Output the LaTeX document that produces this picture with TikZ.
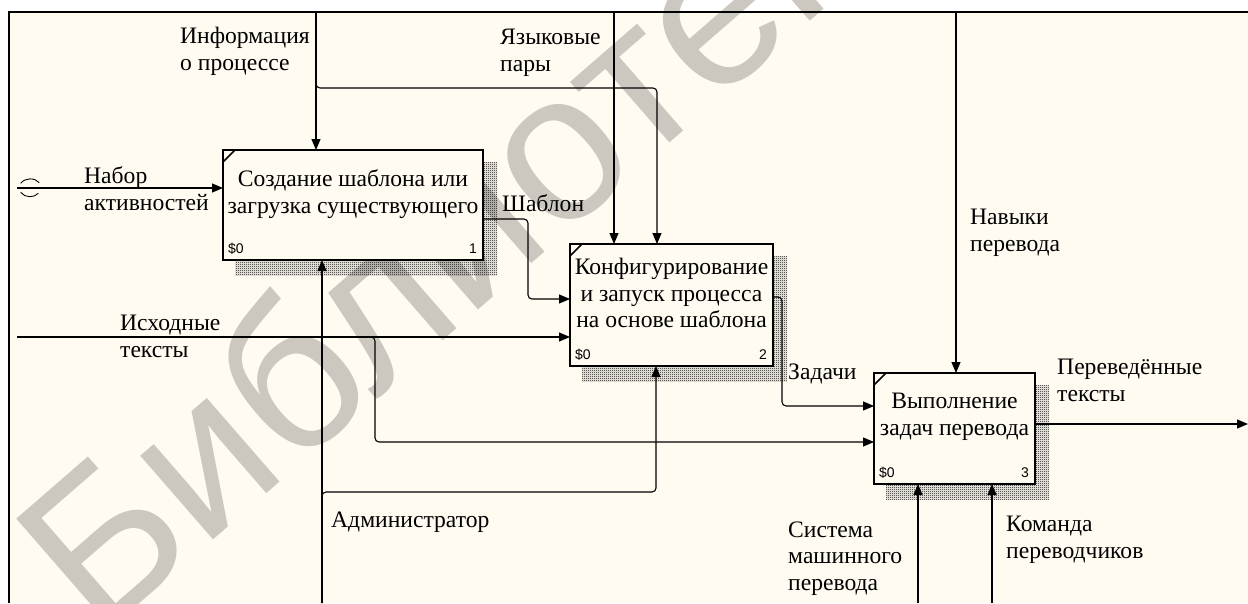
\documentclass[tikz,border=0pt]{standalone}
\usepackage{fontspec}
\setmainfont{Liberation Serif}
\newfontfamily\numfont{Liberation Sans}
\newfontfamily\wmfont{Liberation Sans}
\usetikzlibrary{calc,patterns,arrows.meta}
\definecolor{cream}{RGB}{255,251,241}
\definecolor{wmgray}{RGB}{204,200,192}
\pgfdeclarepatternformonly{idefhatch}{\pgfqpoint{0pt}{0pt}}{\pgfqpoint{2pt}{2pt}}{\pgfqpoint{2pt}{2pt}}{%
  \pgfpathrectangle{\pgfqpoint{0pt}{0pt}}{\pgfqpoint{1pt}{1pt}}%
  \pgfpathrectangle{\pgfqpoint{1pt}{1pt}}{\pgfqpoint{1pt}{1pt}}%
  \pgfusepath{fill}}
\tikzset{
  lbl/.style={inner sep=0pt, anchor=west, align=left, font=\fontsize{23.6}{26.8}\selectfont},
  boxtext/.style={inner sep=0pt, align=center, font=\fontsize{23.6}{26.5}\selectfont},
  idefbox/.style={draw, line width=2pt, fill=cream, inner sep=0pt, outer sep=0pt},
  tag/.style={inner sep=0pt, font=\numfont\fontsize{14}{14}\selectfont},
  arr/.style={line width=1.1pt, -{Triangle[length=11pt,width=9pt]}},
  rc/.style={rounded corners=4pt},
}
\newcommand{\idefshadow}[1]{%
  \fill[pattern=idefhatch, pattern color=black]
    ($(#1.north west)+(12,12)$) rectangle ($(#1.south east)+(14,15)$);}
\newcommand{\idefcorner}[1]{%
  \draw[line width=1.5pt] ($(#1.north west)+(0,12)$) -- ($(#1.north west)+(12,0)$);}
\begin{document}
\begin{tikzpicture}[x=1pt,y=-1pt]
\useasboundingbox (0,0) rectangle (1248,603);
\fill[white] (0,0) rectangle (1248,603);
\fill[cream] (9,12) rectangle (1248,603);
% watermark
\node[font=\wmfont\fontsize{210}{210}\selectfont, text=wmgray, rotate=41, inner sep=0pt] (wm) at (480,208) {Библиотека};
% frame
\draw[line width=2.5pt] (9,603) -- (9,12) -- (1248,12);

% boxes
\node[idefbox, minimum width=260pt, minimum height=110pt] (b1) at (353,205) {};
\node[idefbox, minimum width=203pt, minimum height=122pt] (b2) at (671.5,305) {};
\node[idefbox, minimum width=161pt, minimum height=111pt] (b3) at (954.5,428.5) {};
\idefshadow{b1}\idefshadow{b2}\idefshadow{b3}
\node[idefbox, minimum width=260pt, minimum height=110pt] at (b1) {};
\node[idefbox, minimum width=203pt, minimum height=122pt] at (b2) {};
\node[idefbox, minimum width=161pt, minimum height=111pt] at (b3) {};
\idefcorner{b1}\idefcorner{b2}\idefcorner{b3}

\node[boxtext] (t1) at (353,194) {Создание шаблона или\\загрузка существующего};
\node[boxtext] (t2) at (671.5,293) {Конфигурирование\\и запуск процесса\\на основе шаблона};
\node[boxtext] (t3) at (954.5,417) {Выполнение\\задач перевода};

\node[tag, anchor=west] (s1) at ($(b1.south west)+(5,-11)$) {\$0};
\node[tag, anchor=east] (n1) at ($(b1.south east)+(-6,-11)$) {1};
\node[tag, anchor=west] (s2) at ($(b2.south west)+(5,-11)$) {\$0};
\node[tag, anchor=east] (n2) at ($(b2.south east)+(-6,-11)$) {2};
\node[tag, anchor=west] (s3) at ($(b3.south west)+(5,-11)$) {\$0};
\node[tag, anchor=east] (n3) at ($(b3.south east)+(-6,-11)$) {3};

% coordinates for free ends and bends
\coordinate (infoTop) at (316,12);
\coordinate (infoBr) at (316,88);
\coordinate (infoK) at (657,88);
\coordinate (langTop) at (614,12);
\coordinate (skTop) at (956,12);
\coordinate (nabL) at (17,188);
\coordinate (shabK) at (528,299);
\coordinate (isxL) at (17,337);
\coordinate (isxK) at (375,442);
\coordinate (zadK) at (782,406);
\coordinate (outR) at (1248,424);
\coordinate (admB) at (322,603);
\coordinate (admK) at (656,492);
\coordinate (sysB) at (918,603);
\coordinate (komB) at (992,603);

% connectors
\draw[arr] (infoTop) -- (infoTop |- b1.north);
\draw[arr,rc] (infoTop) -- (infoBr) -- (infoK) -- (infoK |- b2.north);
\draw[arr] (langTop) -- (langTop |- b2.north);
\draw[arr] (skTop) -- (skTop |- b3.north);
\draw[arr] (nabL) -- (nabL -| b1.west);
\draw[line width=0.9pt] (20.7,183.3) .. controls (25,177.5) and (35,177.5) .. (39.3,182.7);
\draw[line width=0.9pt] (20.7,192.3) .. controls (25,198) and (34,198) .. (38.3,193.3);
\draw[arr,rc] ($(b1.east)+(0,14)$) -| (shabK) -- (shabK -| b2.west);
\draw[arr] (isxL) -- (isxL -| b2.west);
\draw[arr,rc] (isxL) -| (isxK) -- (isxK -| b3.west);
\draw[arr,rc] ($(b2.east)+(0,-8)$) -| (zadK) -- (zadK -| b3.west);
\draw[arr] (outR -| b3.east) -- (outR);
\draw[arr] (admB) -- (admB |- b1.south);
\draw[arr,rc] (admB) |- (admK) -- (admK |- b2.south);
\draw[arr] (sysB) -- (sysB |- b3.south);
\draw[arr] (komB) -- (komB |- b3.south);

% labels
\node[lbl] (lInfo) at (180,51.5) {Информация\\о процессе};
\node[lbl] (lLang) at (500,53) {Языковые\\пары};
\node[lbl] (lNab) at (84,188.5) {Набор\\активностей};
\node[lbl] (lShab) at (502,203) {Шаблон};
\node[lbl] (lIsx) at (120,336) {Исходные\\тексты};
\node[lbl] (lAdm) at (331,522) {Администратор};
\node[lbl] (lZad) at (788,374) {Задачи};
\node[lbl] (lNav) at (970,233) {Навыки\\перевода};
\node[lbl] (lPer) at (1057,380.5) {Переведённые\\тексты};
\node[lbl] (lSys) at (788,558.5) {Система\\машинного\\перевода};
\node[lbl] (lKom) at (1006,540) {Команда\\переводчиков};
\end{tikzpicture}
\end{document}
